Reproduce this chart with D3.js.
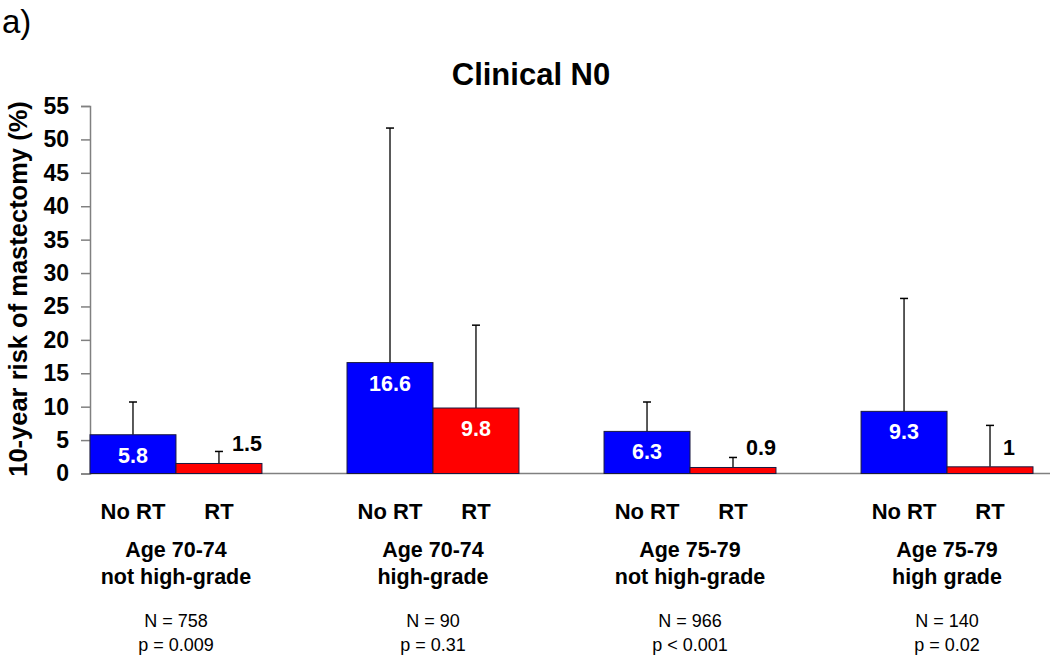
<!DOCTYPE html>
<html>
<head>
<meta charset="utf-8">
<script src="https://cdn.jsdelivr.net/npm/d3@7"></script>
<style>
  html, body { margin: 0; padding: 0; background: #fff; }
  svg { display: block; font-family: "Liberation Sans", Arial, sans-serif; }
</style>
</head>
<body>
<svg id="chart" width="1050" height="658"></svg>
<script>
// ---- data ----
const groups = ["g1", "g2", "g3", "g4"];
const groupLine1 = ["Age 70-74", "Age 70-74", "Age 75-79", "Age 75-79"];
const groupLine2 = ["not high-grade", "high-grade", "not high-grade", "high grade"];
const nLabels = ["N = 758", "N = 90", "N = 966", "N = 140"];
const pLabels = ["p = 0.009", "p = 0.31", "p < 0.001", "p = 0.02"];
const seriesNames = ["No RT", "RT"];
const noRT = [5.8, 16.6, 6.3, 9.3];
const rt = [1.5, 9.8, 0.9, 1];
const noRTUpper = [10.7, 51.7, 10.7, 26.2];
const rtUpper = [3.3, 22.2, 2.4, 7.2];
const yTicks = [0, 5, 10, 15, 20, 25, 30, 35, 40, 45, 50, 55];
const colors = ["#0000FF", "#FF0000"];

const svg = d3.select("#chart");

const x = d3.scaleBand().domain(groups).range([90, 1033]).paddingInner(0.331).paddingOuter(0).align(0);
const xs = d3.scaleBand().domain(seriesNames).range([0, x.bandwidth()]);
const y = d3.scaleLinear().domain([0, 55]).range([473.5, 106]);

// y axis
const yAxis = d3.axisLeft(y).tickValues(yTicks).tickSize(9).tickPadding(12).tickFormat(d3.format("d"));
const gy = svg.append("g").attr("transform", "translate(90,0)").call(yAxis);
gy.select(".domain").attr("stroke", "#808080").attr("stroke-width", 1.5);
gy.selectAll(".tick line").attr("stroke", "#808080").attr("stroke-width", 1.5);
gy.selectAll(".tick text").attr("font-size", 23).attr("font-weight", "bold").attr("fill", "#000")
  .attr("font-family", "'Liberation Sans', Arial, sans-serif");

// x baseline
svg.append("line").attr("x1", 90).attr("x2", 1050).attr("y1", y(0)).attr("y2", y(0))
  .attr("stroke", "#808080").attr("stroke-width", 1.5);

// bar data
const bars = [];
groups.forEach((g, i) => {
  bars.push({ g, s: seriesNames[0], v: noRT[i], up: noRTUpper[i], c: colors[0] });
  bars.push({ g, s: seriesNames[1], v: rt[i], up: rtUpper[i], c: colors[1] });
});

const gBars = svg.append("g");
gBars.selectAll("line.err").data(bars).join("line")
  .attr("x1", d => x(d.g) + xs(d.s) + xs.bandwidth() / 2)
  .attr("x2", d => x(d.g) + xs(d.s) + xs.bandwidth() / 2)
  .attr("y1", d => y(d.v)).attr("y2", d => y(d.up))
  .attr("stroke", "#000").attr("stroke-width", 1.3);
gBars.selectAll("line.cap").data(bars).join("line")
  .attr("x1", d => x(d.g) + xs(d.s) + xs.bandwidth() / 2 - 4)
  .attr("x2", d => x(d.g) + xs(d.s) + xs.bandwidth() / 2 + 4)
  .attr("y1", d => y(d.up)).attr("y2", d => y(d.up))
  .attr("stroke", "#000").attr("stroke-width", 1.5);

gBars.selectAll("rect").data(bars).join("rect")
  .attr("x", d => x(d.g) + xs(d.s))
  .attr("width", xs.bandwidth())
  .attr("y", d => y(d.v))
  .attr("height", d => y(0) - y(d.v))
  .attr("fill", d => d.c)
  .attr("stroke", "#1a1a40").attr("stroke-width", 1);

// value labels
svg.append("g").selectAll("text").data(bars).join("text")
  .attr("x", d => d.v > 5 ? x(d.g) + xs(d.s) + xs.bandwidth() / 2 : x(d.g) + xs(d.s) + xs.bandwidth() / 2 + 13)
  .attr("y", d => d.v > 5 ? y(d.v) + 28 : y(d.v) - 12)
  .attr("text-anchor", d => d.v > 5 ? "middle" : "start")
  .attr("font-size", 21.5).attr("font-weight", "bold")
  .attr("fill", d => d.v > 5 ? "#fff" : "#000")
  .text(d => d.v);

// category labels
const gLab = svg.append("g");
bars.forEach(d => {
  gLab.append("text").attr("x", x(d.g) + xs(d.s) + xs.bandwidth() / 2).attr("y", 519)
    .attr("text-anchor", "middle").attr("font-size", 22).attr("font-weight", "bold").text(d.s);
});
groups.forEach((g, i) => {
  const cx = x(g) + x.bandwidth() / 2;
  gLab.append("text").attr("x", cx).attr("y", 557).attr("text-anchor", "middle")
    .attr("font-size", 21.5).attr("font-weight", "bold").text(groupLine1[i]);
  gLab.append("text").attr("x", cx).attr("y", 584).attr("text-anchor", "middle")
    .attr("font-size", 21.5).attr("font-weight", "bold").text(groupLine2[i]);
  gLab.append("text").attr("x", cx).attr("y", 627).attr("text-anchor", "middle")
    .attr("font-size", 18).text(nLabels[i]);
  gLab.append("text").attr("x", cx).attr("y", 651).attr("text-anchor", "middle")
    .attr("font-size", 18).text(pLabels[i]);
});

// title
svg.append("text").attr("x", 531).attr("y", 85).attr("text-anchor", "middle")
  .attr("font-size", 31).attr("font-weight", "bold").text("Clinical N0");
// panel letter
svg.append("text").attr("x", 2).attr("y", 33).attr("font-size", 33).text("a)");
// y label
svg.append("text").attr("transform", "translate(27,289) rotate(-90)").attr("text-anchor", "middle")
  .attr("font-size", 25.5).attr("font-weight", "bold").text("10-year risk of mastectomy (%)");
</script>
</body>
</html>
